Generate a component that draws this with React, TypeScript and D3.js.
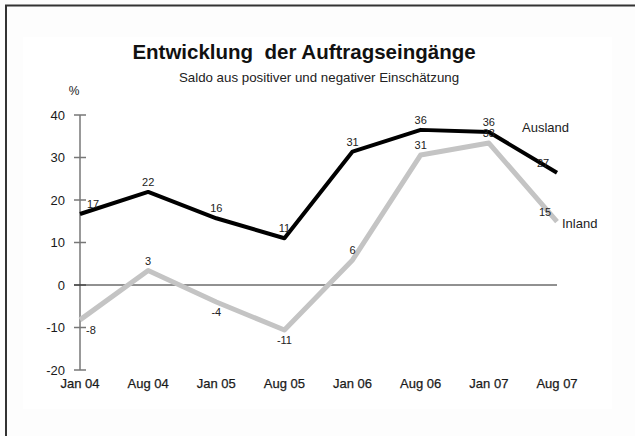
import { useEffect, useRef } from "react";
import * as d3 from "d3";

const months = ["Jan 04", "Aug 04", "Jan 05", "Aug 05", "Jan 06", "Aug 06", "Jan 07", "Aug 07"];
const auslandValues = [16.7, 21.9, 15.7, 11, 31.4, 36.5, 36, 26.4];
const auslandLabels = ["17", "22", "16", "11", "31", "36", "36", "27"];
const inlandValues = [-8.2, 3.4, -4, -10.6, 5.9, 30.6, 33.4, 14.9];
const inlandLabels = ["-8", "3", "-4", "-11", "6", "31", "33", "15"];
const yTicks = [-20, -10, 0, 10, 20, 30, 40];

const W = 635;
const H = 436;
const FONT = "'Liberation Sans', Arial, sans-serif";

export default function App() {
  const svgRef = useRef<SVGSVGElement>(null);

  useEffect(() => {
    if (!svgRef.current) return;
    const svg = d3.select(svgRef.current);
    svg.selectAll("*").remove();

    // background + frame (only top and left edges are visible)
    svg.append("rect").attr("width", W).attr("height", H).attr("fill", "#fdfdfd");
    svg.append("rect").attr("x", 23).attr("y", 37).attr("width", 589).attr("height", 372).attr("fill", "#fff");
    svg.append("line").attr("x1", 5).attr("x2", W).attr("y1", 5.5).attr("y2", 5.5)
      .attr("stroke", "#333").attr("stroke-width", 2);
    svg.append("line").attr("x1", 6).attr("x2", 6).attr("y1", 5).attr("y2", H)
      .attr("stroke", "#333").attr("stroke-width", 2);

    const x = d3.scalePoint<string>().domain(months).range([80, 557]);
    const y = d3.scaleLinear().domain([-20, 40]).range([370, 115]);

    // titles
    svg.append("text").attr("x", 304).attr("y", 59).attr("text-anchor", "middle")
      .style("font-family", FONT).style("font-size", "20.5px").style("font-weight", "bold")
      .attr("fill", "#111").attr("xml:space", "preserve")
      .text("Entwicklung  der Auftragseingänge");
    svg.append("text").attr("x", 319).attr("y", 82).attr("text-anchor", "middle")
      .style("font-family", FONT).style("font-size", "13.3px").attr("fill", "#222")
      .text("Saldo aus positiver und negativer Einschätzung");
    svg.append("text").attr("x", 74).attr("y", 95).attr("text-anchor", "middle")
      .style("font-family", FONT).style("font-size", "12px").attr("fill", "#222")
      .text("%");

    // y axis
    svg.append("line").attr("x1", 80).attr("x2", 80).attr("y1", y(40)).attr("y2", y(-20))
      .attr("stroke", "#777").attr("stroke-width", 1.5);
    svg.append("g").selectAll("line").data(yTicks).join("line")
      .attr("x1", 74).attr("x2", 86).attr("y1", (d) => y(d)).attr("y2", (d) => y(d))
      .attr("stroke", "#777").attr("stroke-width", 1.5);
    svg.append("g").selectAll("text").data(yTicks).join("text")
      .attr("x", 65).attr("y", (d) => y(d) + 4.5).attr("text-anchor", "end")
      .style("font-family", FONT).style("font-size", "13px").attr("fill", "#1a1a1a")
      .text((d) => String(d));

    // zero line
    svg.append("line").attr("x1", 74).attr("x2", x(months[months.length - 1])!)
      .attr("y1", y(0)).attr("y2", y(0)).attr("stroke", "#222").attr("stroke-width", 1);

    // x labels
    svg.append("g").selectAll("text").data(months).join("text")
      .attr("x", (d) => x(d)!).attr("y", 388).attr("text-anchor", "middle")
      .style("font-family", FONT).style("font-size", "13px").attr("fill", "#1a1a1a")
      .attr("stroke", "#1a1a1a").attr("stroke-width", 0.25)
      .text((d) => d);

    const line = d3.line<number>()
      .x((_, i) => x(months[i])!)
      .y((d) => y(d));

    svg.append("path").datum(inlandValues).attr("d", line)
      .attr("fill", "none").attr("stroke", "#c4c4c4").attr("stroke-width", 5)
      .attr("stroke-linejoin", "round");
    svg.append("path").datum(auslandValues).attr("d", line)
      .attr("fill", "none").attr("stroke", "#000").attr("stroke-width", 4)
      .attr("stroke-linejoin", "round");

    const last = months.length - 1;
    // value labels
    svg.append("g").selectAll("text").data(auslandValues).join("text")
      .attr("x", (_, i) => x(months[i])! + (i === 0 ? 13 : i === last ? -14 : 0))
      .attr("y", (d) => y(d) - 6).attr("text-anchor", "middle")
      .style("font-family", FONT).style("font-size", "11px").attr("fill", "#222")
      .text((_, i) => auslandLabels[i]);
    svg.append("g").selectAll("text").data(inlandValues).join("text")
      .attr("x", (_, i) => x(months[i])! + (i === 0 ? 11 : i === last ? -12 : 0))
      .attr("y", (d) => (d < 0 ? y(d) + 14 : y(d) - 6))
      .attr("text-anchor", "middle")
      .style("font-family", FONT).style("font-size", "11px").attr("fill", "#222")
      .text((_, i) => inlandLabels[i]);

    // series names
    svg.append("text").attr("x", 522).attr("y", 132)
      .style("font-family", FONT).style("font-size", "13px").attr("fill", "#222")
      .text("Ausland");
    svg.append("text").attr("x", 562).attr("y", 228)
      .style("font-family", FONT).style("font-size", "13px").attr("fill", "#222")
      .text("Inland");
  }, []);

  return (
    <svg
      ref={svgRef}
      width={W}
      height={H}
      style={{ position: "absolute", left: 0, top: 0, display: "block" }}
    />
  );
}
